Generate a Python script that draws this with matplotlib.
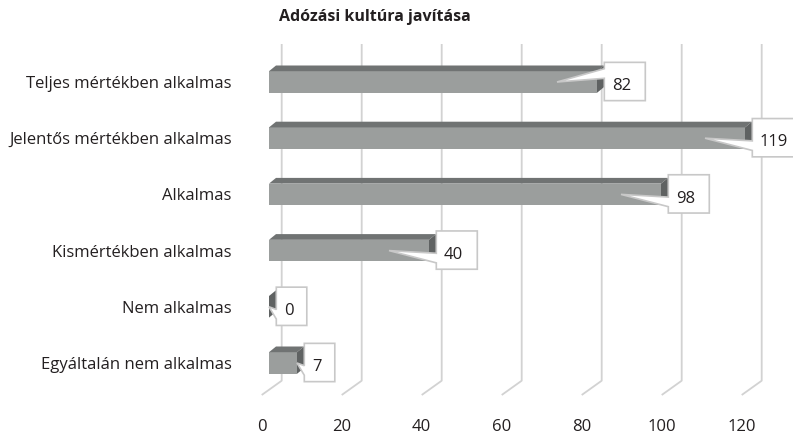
import matplotlib
matplotlib.use("Agg")
import matplotlib.pyplot as plt
from matplotlib.patches import Polygon

# ---- data ----
categories = ["Teljes mértékben alkalmas", "Jelentős mértékben alkalmas", "Alkalmas",
              "Kismértékben alkalmas", "Nem alkalmas", "Egyáltalán nem alkalmas"]
values = [82, 119, 98, 40, 0, 7]
x_ticks = [0, 20, 40, 60, 80, 100, 120]
title = "Adózási kultúra javítása"

# ---- style ----
plt.rcParams['font.family'] = ['Open Sans', 'DejaVu Sans']
TEXT = '#231f20'
GRID = '#d2d2d2'
FRONT = '#9b9e9d'
TOP = '#707373'
END = '#5f6262'
BORDER = '#c8c8c8'
wedge_low = [False, True, True, True, True, True]

W, H = 793, 438
fig = plt.figure(figsize=(W / 100, H / 100), dpi=100)

# axes: left edge = front floor value 0, bottom = front floor edge
x0_px, floor_front_px = 261.7, 395.0
PX_PER_UNIT = 4.0
ROW_PX = 56.2
ROW0_PX = 82.0
ax = fig.add_axes([x0_px / W, (H - floor_front_px) / H, 1 - x0_px / W, floor_front_px / H])
ax.set_xlim(0, (W - x0_px) / PX_PER_UNIT)
ax.set_ylim((floor_front_px - ROW0_PX) / ROW_PX, -ROW0_PX / ROW_PX)
for s in ax.spines.values():
    s.set_visible(False)
ax.patch.set_alpha(0)

XU = 1 / PX_PER_UNIT   # data units per px in x
YU = 1 / ROW_PX        # data units per px in y

# gridlines (back wall + floor)
grid_top = (44 - ROW0_PX) * YU
floor_back = (380.7 - ROW0_PX) * YU
floor_front = (floor_front_px - ROW0_PX) * YU
back_dx = 20 * XU
for t in x_ticks:
    ax.plot([t + back_dx, t + back_dx, t], [grid_top, floor_back, floor_front],
            color=GRID, lw=1.3, zorder=1, clip_on=False, solid_capstyle='butt')

# bars
b0 = 7.3 * XU
hh = 10.8 * YU
ddx = 7.0 * XU
ddy = 5.7 * YU
box_h = 38.3 * YU
for i, v in enumerate(values):
    x1 = b0 + v
    front = Polygon([(b0, i - hh), (x1, i - hh), (x1, i + hh), (b0, i + hh)],
                    closed=True, facecolor=FRONT, edgecolor='none', zorder=2)
    top = Polygon([(b0, i - hh), (x1, i - hh), (x1 + ddx, i - hh - ddy), (b0 + ddx, i - hh - ddy)],
                  closed=True, facecolor=TOP, edgecolor='none', zorder=2)
    end = Polygon([(x1, i - hh), (x1, i + hh), (x1 + ddx, i + hh - ddy), (x1 + ddx, i - hh - ddy)],
                  closed=True, facecolor=END, edgecolor='none', zorder=2)
    for p in (front, top, end):
        ax.add_patch(p)

    # callout
    label = str(v)
    L = x1 + ddx + 0.3 * XU
    w = (20 + 10.5 * len(label)) * XU
    R = L + w
    c = i - 0.5 * YU
    T, B = c - box_h / 2, c + box_h / 2
    tip_x = x1 - 40 * XU if v > 10 else x1
    tip = (tip_x, i)
    if wedge_low[i]:
        yb1, yb2 = T + box_h * 7 / 12, T + box_h * 10 / 12
    else:
        yb1, yb2 = T + box_h * 2 / 12, T + box_h * 5 / 12
    call = Polygon([(L, T), (R, T), (R, B), (L, B), (L, yb2), tip, (L, yb1)],
                   closed=True, facecolor='white', edgecolor=BORDER, lw=1.2,
                   zorder=3, joinstyle='miter')
    ax.add_patch(call)
    ax.text(L + 7.5 * XU, c + 8.7 * YU, label, ha='left', va='baseline',
            fontsize=12, color=TEXT, zorder=4)

# ticks
ax.set_xticks(x_ticks)
ax.set_xticklabels([str(t) for t in x_ticks])
ax.set_yticks(range(len(categories)))
ax.set_yticklabels(categories)
ax.tick_params(axis='x', length=0, pad=17.5, labelsize=12, labelcolor=TEXT)
ax.tick_params(axis='y', length=0, pad=21.6, labelsize=12, labelcolor=TEXT)

fig.text(374.5 / W, 1 - 17 / H, title, ha='center', va='center',
         fontsize=11.5, fontweight='bold', color=TEXT)

fig.savefig('out.png', dpi=100)
